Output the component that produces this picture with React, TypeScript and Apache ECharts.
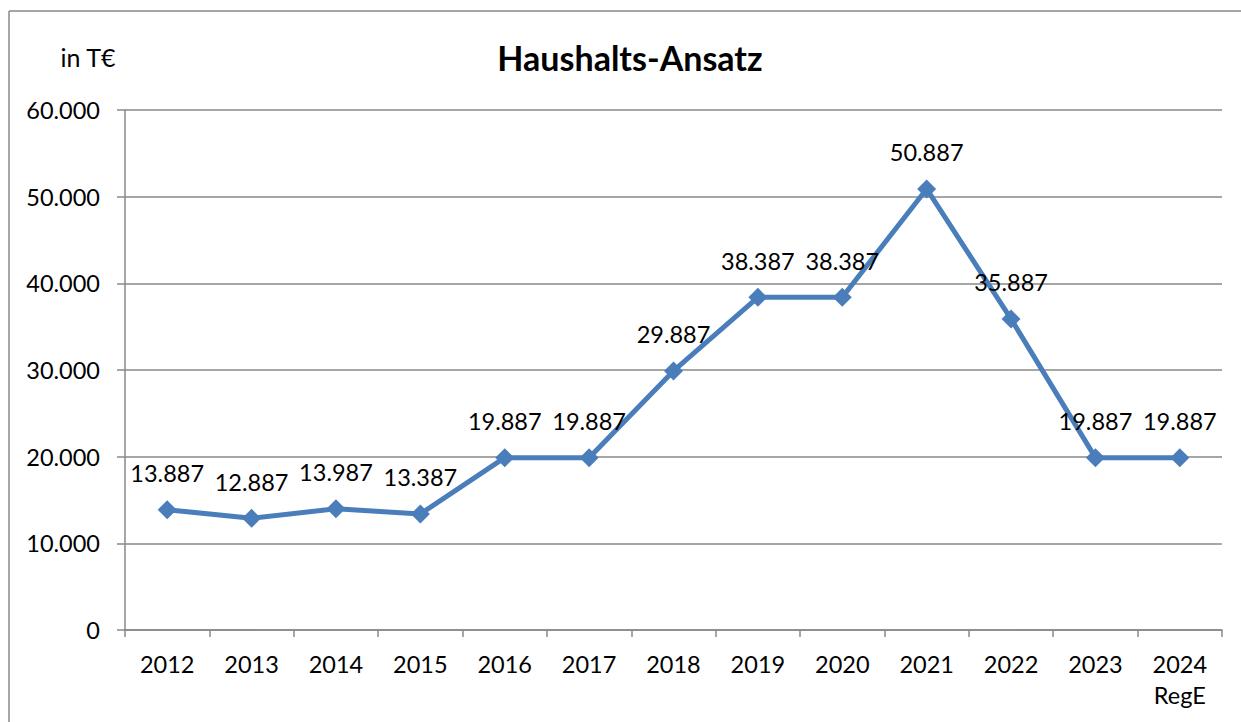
import React, { useEffect, useRef } from "react";
import * as echarts from "echarts";

const categories = ["2012", "2013", "2014", "2015", "2016", "2017", "2018", "2019", "2020", "2021", "2022", "2023", "2024\nRegE"];
const values = [13887, 12887, 13987, 13387, 19887, 19887, 29887, 38387, 38387, 50887, 35887, 19887, 19887];
const titleText = "Haushalts-Ansatz";
const unitText = "in T€";

const fmt = (v: number) => {
  if (v === 0) return "0";
  const s = Math.round(v).toString();
  return s.replace(/\B(?=(\d{3})+(?!\d))/g, ".");
};

const FONT = "Lato, 'Open Sans', sans-serif";
const FS = 23.5;

export default function App() {
  const ref = useRef<HTMLDivElement>(null);
  useEffect(() => {
    document.body.style.margin = "8px 0 0 8px";
    document.body.style.overflow = "hidden";
    document.documentElement.style.overflow = "hidden";
    if (!ref.current) return;
    const chart = echarts.init(ref.current, null, { renderer: "svg" });
    chart.setOption({
      animation: false,
      backgroundColor: "#ffffff",
      textStyle: { fontFamily: FONT },
      grid: { left: 117, right: 19, top: 102, bottom: 92, containLabel: false },
      graphic: [
        {
          type: "line",
          shape: { x1: 1, y1: 3, x2: 1233, y2: 3 },
          style: { stroke: "#888888", lineWidth: 1.5 },
          silent: true,
        },
        {
          type: "line",
          shape: { x1: 1, y1: 3, x2: 1, y2: 714 },
          style: { stroke: "#888888", lineWidth: 1.5 },
          silent: true,
        },
        {
          type: "text",
          x: 622,
          y: 49,
          style: {
            text: titleText,
            fontFamily: FONT,
            fontSize: 34,
            fontWeight: "bold",
            fill: "#000",
            textAlign: "center",
            textVerticalAlign: "middle",
          },
        },
        {
          type: "text",
          x: 80,
          y: 49,
          style: {
            text: unitText,
            fontFamily: FONT,
            fontSize: 25,
            fill: "#000",
            textAlign: "center",
            textVerticalAlign: "middle",
          },
        },
      ],
      xAxis: {
        type: "category",
        data: categories,
        boundaryGap: true,
        axisLine: { lineStyle: { color: "#888888", width: 1.5 } },
        axisTick: { show: true, length: 7, lineStyle: { color: "#888888", width: 1.5 } },
        axisLabel: { color: "#000", fontSize: FS, fontFamily: FONT, margin: 18, lineHeight: 31 },
        splitLine: { show: false },
      },
      yAxis: {
        type: "value",
        min: 0,
        max: 60000,
        interval: 10000,
        axisLine: { show: true, lineStyle: { color: "#888888", width: 1.5 } },
        axisTick: { show: true, length: 8, lineStyle: { color: "#888888", width: 1.5 } },
        axisLabel: { color: "#000", fontSize: FS, fontFamily: FONT, margin: 25, formatter: (v: number) => fmt(v) },
        splitLine: { show: true, lineStyle: { color: "#888888", width: 1.5 } },
      },
      series: [
        {
          type: "line",
          data: values,
          symbol: "diamond",
          symbolSize: 19,
          lineStyle: { color: "#4a7ebb", width: 5 },
          itemStyle: { color: "#4a7ebb" },
          label: {
            show: true,
            position: "top",
            distance: 15,
            color: "#000",
            fontSize: FS,
            fontFamily: FONT,
            formatter: (p: any) => fmt(p.value),
          },
        },
      ],
    });
    return () => chart.dispose();
  }, []);
  return <div ref={ref} style={{ width: 1233, height: 714 }} />;
}
